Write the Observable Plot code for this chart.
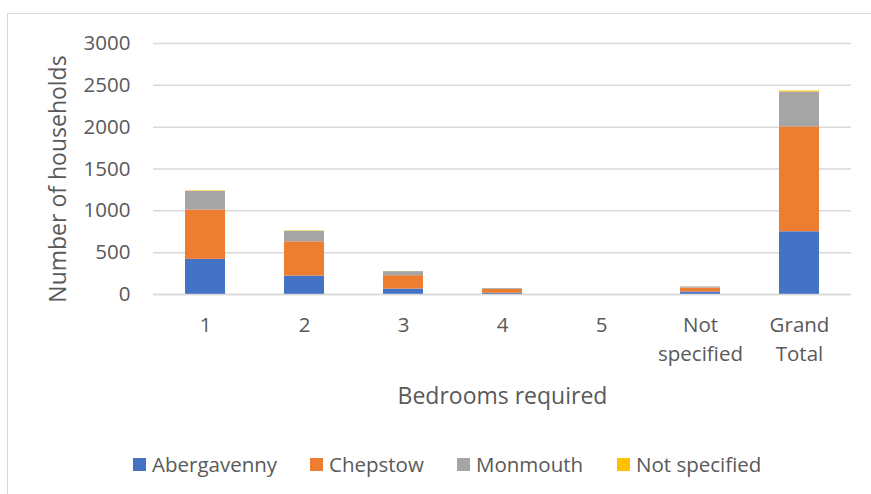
<!DOCTYPE html>
<html>
<head>
<meta charset="utf-8">
<script src="https://cdn.jsdelivr.net/npm/d3@7"></script>
<script src="https://cdn.jsdelivr.net/npm/@observablehq/plot@0.6"></script>
<style>
  html, body { margin: 0; padding: 0; background: #fff; }
  #wrap { position: relative; width: 871px; height: 494px; overflow: hidden; font-family: "Open Sans", Lato, sans-serif; color: #595959; }
  #frame { position: absolute; left: 7px; top: 13px; width: 900px; height: 520px; border: 1px solid #d9d9d9; box-sizing: border-box; }
  #chart { position: absolute; left: 0; top: 0; }
  #legend { position: absolute; left: 0; top: 452px; width: 871px; height: 24px; font-size: 20.5px; }
  .item { position: absolute; top: 0; display: flex; align-items: center; height: 24px; white-space: nowrap; }
  .sw { width: 13px; height: 13px; margin-right: 6px; }
</style>
</head>
<body>
<div id="wrap">
  <div id="frame"></div>
  <div id="chart"></div>
  <div id="legend"></div>
</div>
<script>
const categories = ["1", "2", "3", "4", "5", "Not specified", "Grand Total"];
const series = ["Abergavenny", "Chepstow", "Monmouth", "Not specified"];
const abergavenny = [420, 220, 65, 15, 0, 30, 750];
const chepstow = [590, 410, 160, 45, 0, 48, 1253];
const monmouth = [222, 125, 48, 10, 0, 12, 417];
const notSpecified = [6, 5, 1, 0, 0, 0, 12];
const yTicks = [0, 500, 1000, 1500, 2000, 2500, 3000];
const colors = ["#4472C4", "#ED7D31", "#A5A5A5", "#FFC000"];
const legendX = [133, 310, 457, 617];
const yTitle = "Number of households";
const xTitle = "Bedrooms required";

const seriesValues = [abergavenny, chepstow, monmouth, notSpecified];
const data = [];
series.forEach((s, si) => {
  categories.forEach((c, ci) => {
    data.push({category: c, series: s, value: seriesValues[si][ci]});
  });
});

const labelMap = {"Not specified": "Not\nspecified", "Grand Total": "Grand\nTotal"};

const chart = Plot.plot({
  width: 871,
  height: 420,
  marginLeft: 153,
  marginRight: 20,
  marginTop: 43,
  marginBottom: 126,
  style: {fontFamily: "'Open Sans', Lato, sans-serif", fontSize: "20.5px", color: "#595959", background: "transparent", overflow: "visible"},
  x: {domain: categories, paddingInner: 0.6, paddingOuter: 0.3},
  y: {domain: [0, 3000]},
  color: {domain: series, range: colors},
  marks: [
    Plot.gridY(yTicks, {stroke: "#d9d9d9", strokeOpacity: 1, strokeWidth: 1.5}),
    Plot.barY(data, {x: "category", y: "value", fill: "series"}),
    Plot.ruleY([0], {stroke: "#d9d9d9", strokeWidth: 1.5}),
    Plot.axisY({ticks: yTicks, tickSize: 0, tickPadding: 23, fill: "#595959", tickFormat: d => String(d), label: null}),
    Plot.axisX({tickSize: 0, tickPadding: 17, fill: "#595959", tickFormat: d => labelMap[d] || d, lineHeight: 1.4, label: null}),
    Plot.text([yTitle], {frameAnchor: "left", textAnchor: "middle", dx: -95, dy: 10, rotate: -90, text: d => d, fill: "#595959", fontSize: 23}),
    Plot.text([xTitle], {frameAnchor: "bottom", dy: 109, text: d => d, fill: "#595959", fontSize: 23})
  ]
});
document.getElementById("chart").appendChild(chart);

const legend = document.getElementById("legend");
series.forEach((s, i) => {
  const it = document.createElement("div");
  it.className = "item";
  it.style.left = legendX[i] + "px";
  const sw = document.createElement("div");
  sw.className = "sw";
  sw.style.background = colors[i];
  const t = document.createElement("span");
  t.textContent = s;
  it.appendChild(sw);
  it.appendChild(t);
  legend.appendChild(it);
});
</script>
</body>
</html>
